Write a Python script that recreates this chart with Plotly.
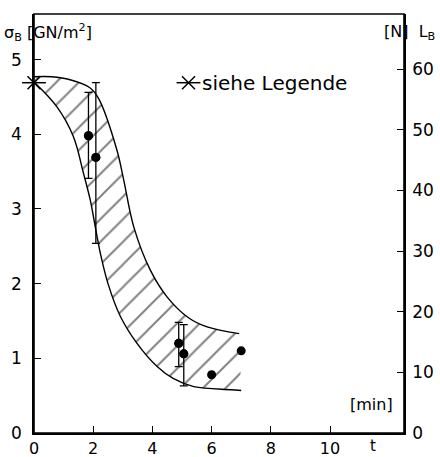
import plotly.graph_objects as go

# ---- data ----
upper_t = [0.0, 0.6, 1.22, 1.9, 2.18, 2.8, 3.03, 3.37, 3.93, 4.5, 5.23, 5.85, 6.93]
upper_s = [4.77, 4.77, 4.73, 4.62, 4.48, 3.79, 3.39, 2.76, 2.18, 1.82, 1.54, 1.42, 1.33]
lower_t = [0.0, 0.77, 1.33, 1.67, 1.9, 2.07, 2.24, 2.5, 2.92, 3.48, 4.16, 4.7, 5.4, 6.64, 7.0]
lower_s = [4.70, 4.37, 3.97, 3.48, 3.12, 2.76, 2.41, 2.0, 1.56, 1.2, 0.89, 0.73, 0.62, 0.58, 0.57]

pt_t = [1.84, 2.09, 4.89, 5.06, 6.0, 7.0]
pt_s = [3.98, 3.69, 1.20, 1.06, 0.78, 1.10]
err_plus = [0.58, 1.00, 0.28, 0.39, 0.0, 0.0]
err_minus = [0.57, 1.15, 0.31, 0.43, 0.0, 0.0]
has_err = [True, True, True, True, False, False]

star_t = [0.0]
star_s = [4.69]
legend_t = [5.22]
legend_s = [4.69]

x_ticks = [0, 2, 4, 6, 8, 10]
y_ticks = [0, 1, 2, 3, 4, 5]
y2_ticks = [0, 10, 20, 30, 40, 50, 60]

FONT = "DejaVu Sans"
fig = go.Figure()

# band lower boundary
fig.add_trace(go.Scatter(x=lower_t, y=lower_s, mode="lines",
                         line=dict(color="black", width=1.4, shape="spline", smoothing=1.0),
                         showlegend=False, hoverinfo="skip"))
# band upper boundary with hatched fill
fig.add_trace(go.Scatter(x=upper_t, y=upper_s, mode="lines", fill="tonexty",
                         fillcolor="rgba(0,0,0,0)",
                         fillpattern=dict(shape="/", size=16, solidity=0.12,
                                          fgcolor="black", bgcolor="rgba(0,0,0,0)"),
                         line=dict(color="black", width=1.4, shape="spline", smoothing=1.0),
                         showlegend=False, hoverinfo="skip"))

# measured points with error bars
e_t = [t for t, h in zip(pt_t, has_err) if h]
e_s = [s for s, h in zip(pt_s, has_err) if h]
e_p = [p for p, h in zip(err_plus, has_err) if h]
e_m = [m for m, h in zip(err_minus, has_err) if h]
fig.add_trace(go.Scatter(x=e_t, y=e_s, mode="markers",
                         marker=dict(color="black", size=9),
                         error_y=dict(type="data", array=e_p, arrayminus=e_m,
                                      color="black", thickness=1.3, width=4),
                         showlegend=False))
fig.add_trace(go.Scatter(x=pt_t, y=pt_s, mode="markers",
                         marker=dict(color="black", size=9),
                         showlegend=False))

# star markers (axis point and legend)
for xs, ys in [(star_t, star_s), (legend_t, legend_s)]:
    fig.add_trace(go.Scatter(x=xs, y=ys, mode="markers",
                             marker=dict(symbol="x-thin-open", size=13, color="black",
                                         line=dict(color="black", width=1.5)),
                             showlegend=False, cliponaxis=False))
    fig.add_trace(go.Scatter(x=xs, y=ys, mode="markers",
                             marker=dict(symbol="line-ew-open", size=17, color="black",
                                         line=dict(color="black", width=1.5)),
                             showlegend=False, cliponaxis=False))

# secondary axis carrier (invisible)
fig.add_trace(go.Scatter(x=[0], y=[0], yaxis="y2", mode="markers",
                         marker=dict(opacity=0), showlegend=False, hoverinfo="skip"))

fig.add_annotation(x=5.62, y=legend_s[0], xref="x", yref="y", text="siehe Legende",
                   showarrow=False, xanchor="left", yanchor="middle",
                   font=dict(family=FONT, size=20, color="black"))
fig.add_annotation(x=-0.087, y=0.955, xref="paper", yref="paper",
                   text="σ<sub>B</sub> [GN/m<sup>2</sup>]", showarrow=False,
                   xanchor="left", yanchor="middle",
                   font=dict(family=FONT, size=16, color="black"))
fig.add_annotation(x=1.09, y=0.955, xref="paper", yref="paper",
                   text="[N]  L<sub>B</sub>", showarrow=False,
                   xanchor="right", yanchor="middle",
                   font=dict(family=FONT, size=16, color="black"))
fig.add_annotation(x=0.975, y=0.068, xref="paper", yref="paper", text="[min]",
                   showarrow=False, xanchor="right", yanchor="middle",
                   font=dict(family=FONT, size=16, color="black"))
fig.add_annotation(x=11.45, y=-0.032, xref="x", yref="paper", text="t",
                   showarrow=False, xanchor="center", yanchor="middle",
                   font=dict(family=FONT, size=15, color="black"))

# plot frame
fig.add_shape(type="rect", xref="paper", yref="paper", x0=0, y0=0, x1=1, y1=1,
              line=dict(color="black", width=1.6), fillcolor="rgba(0,0,0,0)", layer="above")

fig.update_layout(
    width=440, height=457,
    margin=dict(l=34, r=36, t=14, b=24),
    paper_bgcolor="white", plot_bgcolor="white",
    font=dict(family=FONT, size=17, color="black"),
    showlegend=False,
    xaxis=dict(range=[0, 12.5], tickvals=x_ticks, ticks="inside", ticklen=7,
               tickwidth=1.4, tickcolor="black", showline=True, linecolor="black",
               linewidth=1.6, showgrid=False, zeroline=False, tickfont=dict(size=16),
               ticklabelstandoff=0, automargin=False),
    yaxis=dict(range=[0, 5.61], tickvals=y_ticks, ticks="inside", ticklen=7,
               tickwidth=1.4, tickcolor="black", showline=True, linecolor="black",
               linewidth=1.6, showgrid=False, zeroline=False, ticklabelstandoff=7,
               automargin=False),
    yaxis2=dict(range=[0, 69.1], tickvals=y2_ticks, ticks="inside", ticklen=7,
                tickwidth=1.4, tickcolor="black", showline=True, linecolor="black",
                linewidth=1.6, overlaying="y", side="right", showgrid=False,
                zeroline=False, ticklabelstandoff=3, automargin=False),
)

fig.write_html("out.html", config={"displayModeBar": False},
               post_script="document.body.style.margin='0px';")
